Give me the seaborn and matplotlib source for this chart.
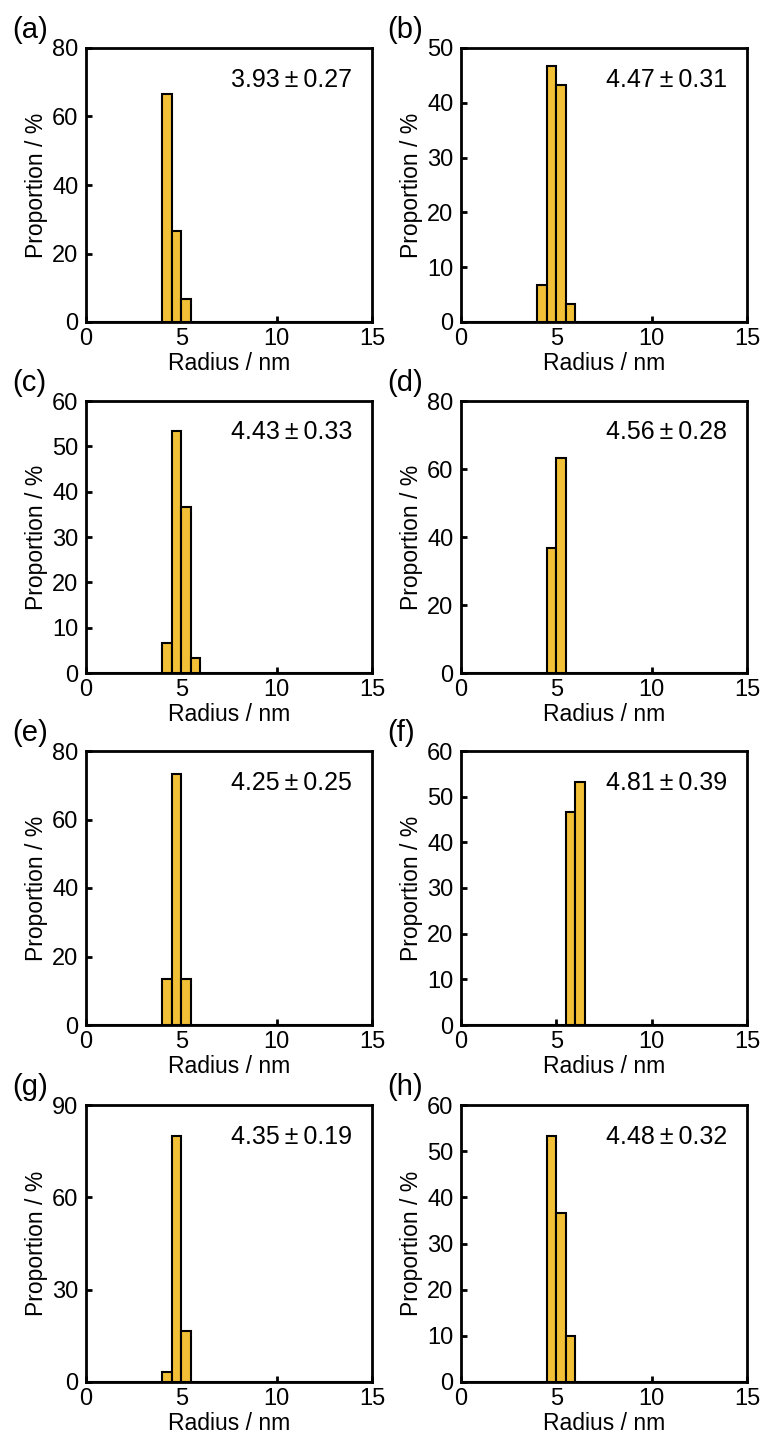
import numpy as np
import pandas as pd
import matplotlib
matplotlib.use("Agg")
import matplotlib.pyplot as plt
import seaborn as sns

# ---- data ----
panel_ids = ["(a)", "(b)", "(c)", "(d)", "(e)", "(f)", "(g)", "(h)"]
bin_left_a = [4.0, 4.5, 5.0]
prop_a = [66.7, 26.7, 6.7]
bin_left_b = [4.0, 4.5, 5.0, 5.5]
prop_b = [6.7, 46.7, 43.3, 3.3]
bin_left_c = [4.0, 4.5, 5.0, 5.5]
prop_c = [6.7, 53.3, 36.7, 3.3]
bin_left_d = [4.5, 5.0]
prop_d = [36.7, 63.3]
bin_left_e = [4.0, 4.5, 5.0]
prop_e = [13.3, 73.3, 13.3]
bin_left_f = [5.5, 6.0]
prop_f = [46.7, 53.3]
bin_left_g = [4.0, 4.5, 5.0]
prop_g = [3.3, 80.0, 16.7]
bin_left_h = [4.5, 5.0, 5.5]
prop_h = [53.3, 36.7, 10.0]
mean_sd = ["3.93\u2009\u00b1\u20090.27", "4.47\u2009\u00b1\u20090.31",
           "4.43\u2009\u00b1\u20090.33", "4.56\u2009\u00b1\u20090.28",
           "4.25\u2009\u00b1\u20090.25", "4.81\u2009\u00b1\u20090.39",
           "4.35\u2009\u00b1\u20090.19", "4.48\u2009\u00b1\u20090.32"]
y_max = [80, 50, 60, 80, 80, 60, 90, 60]
y_step = [20, 10, 10, 20, 20, 10, 30, 10]
x_ticks = [0, 5, 10, 15]
bin_width = 0.5

lefts = [bin_left_a, bin_left_b, bin_left_c, bin_left_d,
         bin_left_e, bin_left_f, bin_left_g, bin_left_h]
props = [prop_a, prop_b, prop_c, prop_d, prop_e, prop_f, prop_g, prop_h]

sns.set_theme(style="white")
plt.rcParams['font.family'] = ['Liberation Sans', 'DejaVu Sans']
plt.rcParams['axes.linewidth'] = 2.0
plt.rcParams['text.color'] = 'black'
plt.rcParams['axes.labelcolor'] = 'black'
plt.rcParams['xtick.color'] = 'black'
plt.rcParams['ytick.color'] = 'black'

W, H = 763, 1437
fig = plt.figure(figsize=(W / 100, H / 100), dpi=100)

col_x = [86, 461]
ax_w = 286
rows = [(48, 322), (401, 673), (751, 1025), (1105, 1382)]
bar_color = "#F2C037"

for i in range(8):
    r, c = divmod(i, 2)
    top, bot = rows[r]
    x0 = col_x[c]
    ax = fig.add_axes([x0 / W, 1 - bot / H, ax_w / W, (bot - top) / H])
    df = pd.DataFrame({"radius": np.array(lefts[i]) + bin_width / 2,
                       "prop": props[i]})
    sns.histplot(data=df, x="radius", weights="prop",
                 binwidth=bin_width, binrange=(0, 15),
                 color=bar_color, edgecolor="black", linewidth=1.5,
                 alpha=1.0, ax=ax)
    ax.set_xlim(0, 15)
    ax.set_ylim(0, y_max[i])
    ax.set_xticks(x_ticks)
    ax.set_yticks(np.arange(0, y_max[i] + 1, y_step[i]))
    ax.tick_params(direction="in", length=4.5, width=2, labelsize=17,
                   colors="black", bottom=True, left=True,
                   top=False, right=False)
    ax.tick_params(axis="x", pad=4)
    ax.tick_params(axis="y", pad=5.5)
    for s in ax.spines.values():
        s.set_color("black")
        s.set_linewidth(2.0)
        s.set_visible(True)
    ax.set_xlabel("Radius / nm", fontsize=16.5, labelpad=2)
    ax.set_ylabel("Proportion / %", fontsize=16.5, labelpad=3)
    ax.text(0.93, 0.885, mean_sd[i], transform=ax.transAxes,
            ha="right", va="center", fontsize=18)
    ax.grid(False)
    fig.text((x0 - 74) / W, 1 - (top - 18) / H, panel_ids[i],
             ha="left", va="center", fontsize=21)

fig.savefig("out.png", dpi=100, facecolor="white")
